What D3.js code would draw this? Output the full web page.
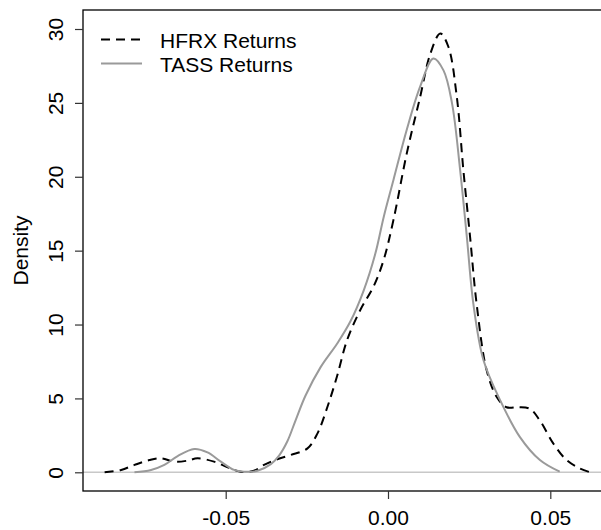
<!DOCTYPE html>
<html><head><meta charset="utf-8">
<script src="https://cdn.jsdelivr.net/npm/d3@7"></script>
<style>body{margin:0;background:#fff}svg{display:block}text{font-family:"Liberation Sans",Arial,sans-serif}</style>
</head><body>
<svg id="c" width="601" height="530"></svg>
<script>
const hfrxX = [-0.0873,-0.0822,-0.0781,-0.0735,-0.0699,-0.0658,-0.0617,-0.0587,-0.0536,-0.0494,-0.0454,-0.0413,-0.0382,-0.0341,-0.030,-0.0249,-0.0218,-0.0187,-0.0157,-0.0126,-0.0085,-0.0044,-0.0013,0.0017,0.0058,0.0099,0.013,0.0161,0.0186,0.0212,0.0232,0.0253,0.0273,0.0304,0.0335,0.0365,0.0400,0.0437,0.0468,0.0509,0.055,0.059,0.062];
const hfrxY = [0,0.16,0.5,0.83,0.95,0.72,0.79,0.95,0.72,0.34,0.04,0.1,0.5,0.88,1.17,1.6,2.6,4.4,6.5,8.95,11.0,12.6,14.4,17.1,21.6,25.4,28.3,29.7,28.8,25.4,20.5,15.9,11.4,6.9,5.1,4.4,4.4,4.3,3.5,1.96,0.83,0.27,0.02];
const tassX = [-0.0781,-0.073,-0.0689,-0.0648,-0.0597,-0.0556,-0.0515,-0.0474,-0.0444,-0.0402,-0.0361,-0.0335,-0.031,-0.0285,-0.0254,-0.0208,-0.0157,-0.0116,-0.0075,-0.0039,-0.0013,0.0017,0.0058,0.0099,0.014,0.0171,0.0197,0.0222,0.0243,0.0263,0.0294,0.0345,0.0406,0.0468,0.0529];
const tassY = [0,0.16,0.5,1.1,1.58,1.35,0.72,0.16,0.04,0.1,0.55,1.15,2.1,3.5,5.2,7.1,8.7,10.2,12.3,14.8,17.3,19.8,23.2,26.1,28.0,27.2,25.0,20.5,15.9,11.4,7.6,4.9,2.4,0.83,0.04];
const xTicks = [-0.05, 0.00, 0.05];
const xTickLabels = ["-0.05", "0.00", "0.05"];
const yTicks = [0, 5, 10, 15, 20, 25, 30];
const seriesNames = ["HFRX Returns", "TASS Returns"];
const yLabel = "Density";

const svg = d3.select("#c");
const box = {l: 83, t: 10, b: 491, r: 606};
const x = d3.scaleLinear().domain([-0.05, 0.05]).range([225.7, 550.3]);
const y = d3.scaleLinear().domain([0, 30]).range([472.3, 29.0]);
const FS = 21;

// zero line
svg.append("line").attr("x1", box.l).attr("x2", box.r).attr("y1", y(0)).attr("y2", y(0))
  .attr("stroke", "#c8c8c8").attr("stroke-width", 1.5);

// box
svg.append("rect").attr("x", box.l).attr("y", box.t).attr("width", box.r - box.l).attr("height", box.b - box.t)
  .attr("fill", "none").attr("stroke", "#000").attr("stroke-width", 1.3);

// x axis
const xa = svg.append("g").attr("transform", `translate(0,${box.b})`)
  .call(d3.axisBottom(x).tickValues(xTicks).tickSize(8).tickFormat((d, i) => xTickLabels[i]));
xa.select(".domain").remove();
xa.selectAll(".tick line").attr("stroke", "#333").attr("stroke-width", 1.2);
xa.selectAll(".tick text").attr("font-size", FS).attr("fill", "#000").attr("font-family", '"Liberation Sans",Arial,sans-serif')
  .attr("y", 34).attr("dy", 0);

// y axis
const ya = svg.append("g").attr("transform", `translate(${box.l},0)`)
  .call(d3.axisLeft(y).tickValues(yTicks).tickSize(8));
ya.select(".domain").remove();
ya.selectAll(".tick line").attr("stroke", "#333").attr("stroke-width", 1.2);
ya.selectAll(".tick text").attr("font-size", FS).attr("fill", "#000").attr("font-family", '"Liberation Sans",Arial,sans-serif')
  .attr("x", null).attr("dy", null).attr("text-anchor", "middle")
  .attr("transform", "translate(-20,0) rotate(-90)");

svg.append("text").attr("transform", `translate(28,${(box.t + box.b) / 2}) rotate(-90)`)
  .attr("text-anchor", "middle").attr("font-size", FS).text(yLabel);

const line = d3.line().x(d => x(d[0])).y(d => y(Math.max(0, d[1]))).curve(d3.curveCatmullRom.alpha(0.5));
const hfrx = hfrxX.map((v, i) => [v, hfrxY[i]]);
const tass = tassX.map((v, i) => [v, tassY[i]]);

svg.append("path").datum(hfrx).attr("d", line).attr("fill", "none")
  .attr("stroke", "#000").attr("stroke-width", 2).attr("stroke-dasharray", "9,6");
svg.append("path").datum(tass).attr("d", line).attr("fill", "none")
  .attr("stroke", "#9a9a9a").attr("stroke-width", 2);

// legend
const leg = svg.append("g");
const rows = [{name: seriesNames[0], y: 39.5, stroke: "#000", dash: "9,6"},
              {name: seriesNames[1], y: 63.5, stroke: "#9a9a9a", dash: null}];
rows.forEach(r => {
  leg.append("line").attr("x1", 101).attr("x2", 142).attr("y1", r.y).attr("y2", r.y)
    .attr("stroke", r.stroke).attr("stroke-width", 2).attr("stroke-dasharray", r.dash);
  leg.append("text").attr("x", 160).attr("y", r.y + 8).attr("font-size", FS).text(r.name);
});
</script>
</body></html>
